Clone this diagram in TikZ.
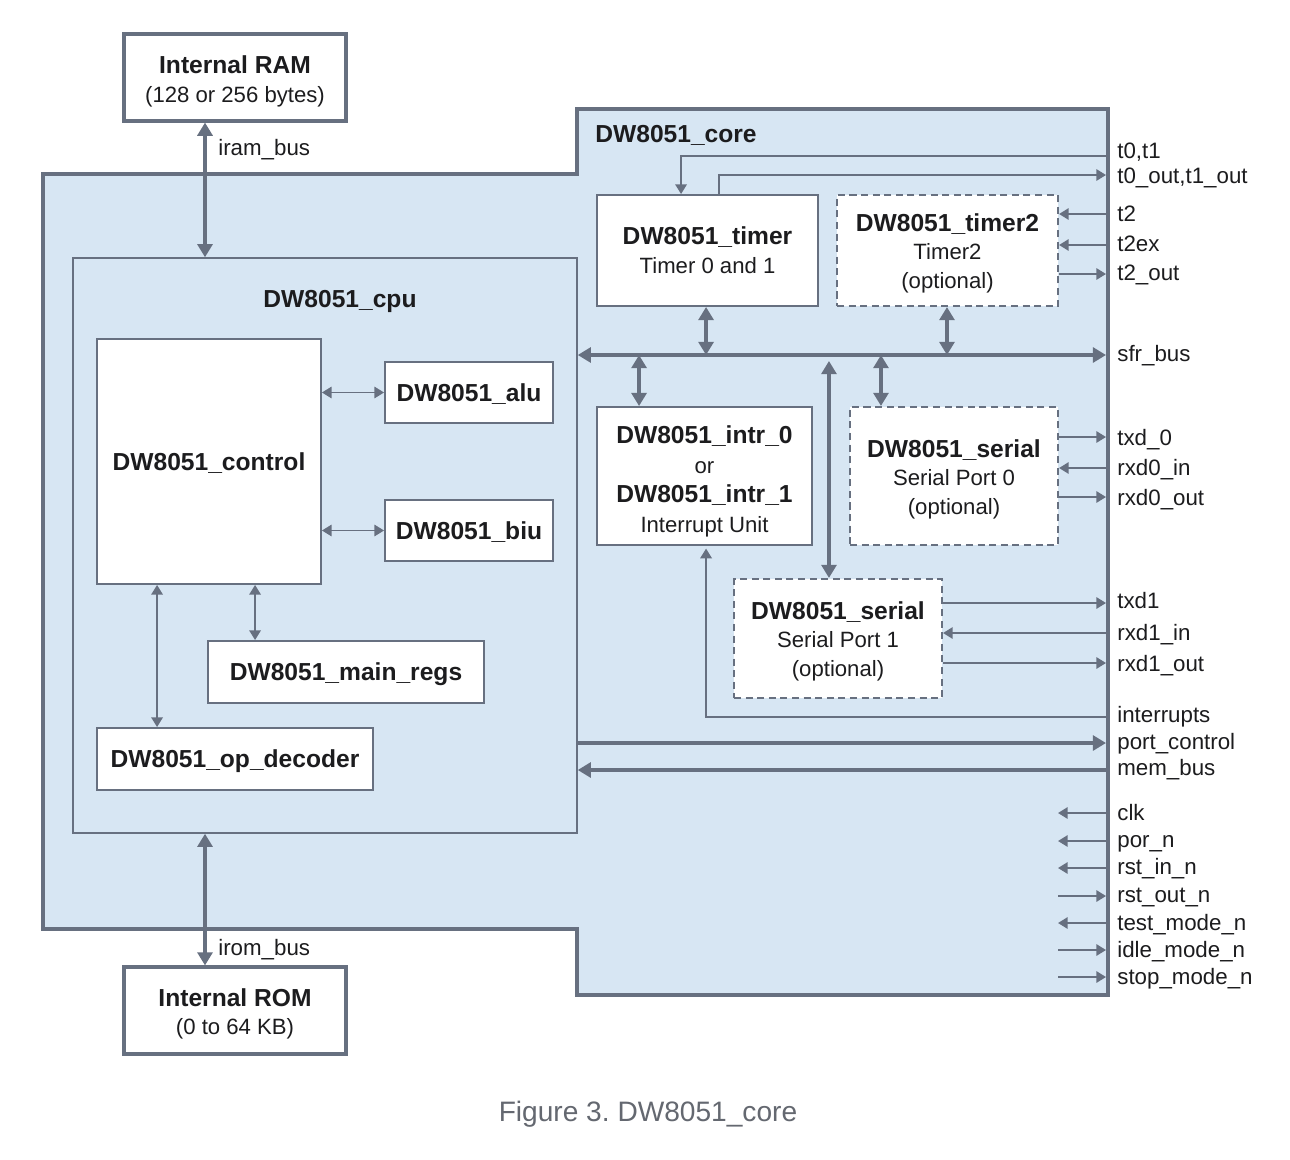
\documentclass[tikz,border=0pt]{standalone}
\usepackage{fontspec}
\setmainfont{Liberation Sans}
\usetikzlibrary{arrows.meta,calc}
\definecolor{lc}{RGB}{103,112,128}
\definecolor{bluefill}{RGB}{215,230,243}
\definecolor{txt}{RGB}{28,28,30}
\definecolor{capc}{RGB}{100,104,112}
\newcommand{\hd}[1]{{\fontsize{14pt}{16.2pt}\selectfont\bfseries #1}}
\newcommand{\ml}[2][15pt]{\begin{tabular}{@{}c@{}}\rule{0pt}{#1}#2\end{tabular}}
\tikzset{
  ts/.tip={Triangle[length=5.5pt,width=6.5pt]},
  tb/.tip={Triangle[length=7.5pt,width=8.5pt]},
}
\frenchspacing
\begin{document}
\begin{tikzpicture}[x=0.02cm,y=-0.02cm,
  every node/.style={text=txt},
  box/.style={draw=lc, fill=white, line width=1.1pt, inner sep=0pt,
              font=\fontsize{12.6pt}{16.2pt}\selectfont},
  optbox/.style={box, dash pattern=on 4pt off 2.6pt, line width=1.2pt},
  membox/.style={box, line width=1.8pt},
  sigline/.style={draw=lc, line width=1pt},
  busline/.style={draw=lc, line width=1.9pt},
  pinlabel/.style={anchor=base west, inner sep=0pt, font=\fontsize{12.7pt}{15pt}\selectfont},
]
\fill[white] (0,0) rectangle (1290,1159);
\useasboundingbox (0,0) rectangle (1290,1159);

% core outline
\draw[lc, fill=bluefill, line width=2.6pt, line join=miter]
  (43,174) -- (577,174) -- (577,109) -- (1108,109) -- (1108,995) -- (577,995) -- (577,929) -- (43,929) -- cycle;
\node[anchor=base west, inner sep=0pt] (coret) at (595,142) {\hd{DW8051\_core}};

% memories
\node[membox, minimum width=4.44cm, minimum height=1.74cm] (ram) at (235,77.5)
  {\ml[17pt]{\hd{Internal RAM}\\(128 or 256 bytes)}};
\node[membox, minimum width=4.44cm, minimum height=1.74cm] (rom) at (235,1010.5)
  {\ml[16.5pt]{\hd{Internal ROM}\\(0 to 64 KB)}};

% cpu
\node[draw=lc, fill=bluefill, line width=0.9pt, inner sep=0pt, minimum width=10.08cm, minimum height=11.5cm] (cpu) at (325,545.5) {};
\node[anchor=base, inner sep=0pt] (cput) at (340,307) {\hd{DW8051\_cpu}};
\node[box, minimum width=4.48cm, minimum height=4.9cm] (ctl) at (209,461.5) {\ml{\hd{DW8051\_control}}};
\node[box, minimum width=3.36cm, minimum height=1.22cm] (alu) at (469,392.5) {\ml{\hd{DW8051\_alu}}};
\node[box, minimum width=3.36cm, minimum height=1.22cm] (biu) at (469,530.5) {\ml{\hd{DW8051\_biu}}};
\node[box, minimum width=5.52cm, minimum height=1.24cm] (mr) at (346,672) {\ml{\hd{DW8051\_main\_regs}}};
\node[box, minimum width=5.52cm, minimum height=1.24cm] (od) at (235,759) {\ml{\hd{DW8051\_op\_decoder}}};

% peripherals
\node[box, minimum width=4.42cm, minimum height=2.22cm] (tm) at (707.5,250.5)
  {\ml[14.7pt]{\hd{DW8051\_timer}\\Timer 0 and 1}};
\node[optbox, minimum width=4.42cm, minimum height=2.22cm] (t2) at (947.5,250.5)
  {\ml[15.3pt]{\hd{DW8051\_timer2}\\Timer2\\(optional)}};
\node[box, minimum width=4.3cm, minimum height=2.76cm, font=\fontsize{12.6pt}{16.8pt}\selectfont] (intr) at (704.5,476)
  {\ml[18.6pt]{\hd{DW8051\_intr\_0}\\or\\\hd{DW8051\_intr\_1}\\Interrupt Unit}};
\node[optbox, minimum width=4.16cm, minimum height=2.76cm] (s0) at (954,476)
  {\ml[15.8pt]{\hd{DW8051\_serial}\\Serial Port 0\\(optional)}};
\node[optbox, minimum width=4.16cm, minimum height=2.38cm] (s1) at (838,638.5)
  {\ml[15.3pt]{\hd{DW8051\_serial}\\Serial Port 1\\(optional)}};

% pins on the core edge
\coordinate (pT01) at (1106,156);
\coordinate (pT01o) at (1106,175);
\coordinate (pT2) at (1106,214);
\coordinate (pT2ex) at (1106,245);
\coordinate (pT2o) at (1106,274);
\coordinate (pSfr) at (1106,355);
\coordinate (pTx0) at (1106,437);
\coordinate (pRx0i) at (1106,468);
\coordinate (pRx0o) at (1106,497);
\coordinate (pTx1) at (1106,603);
\coordinate (pRx1i) at (1106,633);
\coordinate (pRx1o) at (1106,663);
\coordinate (pInt) at (1106,717);
\coordinate (pPc) at (1106,743);
\coordinate (pMem) at (1106,770);

% offset points on boxes
\coordinate (tmA) at ($(tm.north west)+(85,0)$);
\coordinate (tmB) at ($(tm.north west)+(123,0)$);
\coordinate (tmS) at ($(tm.south west)+(110,0)$);
\coordinate (t2S) at ($(t2.south west)+(111,0)$);
\coordinate (inN) at ($(intr.north west)+(43,0)$);
\coordinate (inS) at ($(intr.south west)+(110,0)$);
\coordinate (s0N) at ($(s0.north west)+(32,0)$);
\coordinate (s1N) at ($(s1.north west)+(96,0)$);
\coordinate (ctA) at ($(ctl.south west)+(61,0)$);
\coordinate (ctB) at ($(ctl.south west)+(159,0)$);
\coordinate (ir1) at ($(ram.south)+(-30,0)$);
\coordinate (io1) at ($(rom.north)+(-30,0)$);

% memory buses
\draw[busline, tb-tb] (ir1) -- (ir1 |- cpu.north);
\draw[busline, tb-tb] (io1 |- cpu.south) -- (io1);
\node[anchor=base west, inner sep=0pt, font=\fontsize{12.7pt}{15pt}\selectfont] (lir) at (218,155) {iram\_bus};
\node[anchor=base west, inner sep=0pt, font=\fontsize{12.7pt}{15pt}\selectfont] (lio) at (218,955) {irom\_bus};

% cpu internal
\draw[sigline, ts-ts] (ctl.east |- alu.west) -- (alu.west);
\draw[sigline, ts-ts] (ctl.east |- biu.west) -- (biu.west);
\draw[sigline, ts-ts] (ctA) -- (ctA |- od.north);
\draw[sigline, ts-ts] (ctB) -- (ctB |- mr.north);

% timer signals
\draw[sigline, -ts] (pT01) -| (tmA);
\draw[sigline, -ts] (tmB) |- (pT01o);
\draw[sigline, -ts] (pT2) -- (pT2 -| t2.east);
\draw[sigline, -ts] (pT2ex) -- (pT2ex -| t2.east);
\draw[sigline, -ts] (pT2o -| t2.east) -- (pT2o);

% sfr bus
\draw[busline, tb-tb] (pSfr -| cpu.east) -- (pSfr);
\draw[busline, tb-tb] (tmS) -- (tmS |- pSfr);
\draw[busline, tb-tb] (t2S) -- (t2S |- pSfr);
\draw[busline, tb-tb] (inN) -- (inN |- pSfr);
\draw[busline, tb-tb] (s0N) -- (s0N |- pSfr);
\draw[busline, tb-tb, shorten >=3.4pt] (s1N) -- (s1N |- pSfr);

% serial signals
\draw[sigline, -ts] (pTx0 -| s0.east) -- (pTx0);
\draw[sigline, -ts] (pRx0i) -- (pRx0i -| s0.east);
\draw[sigline, -ts] (pRx0o -| s0.east) -- (pRx0o);
\draw[sigline, -ts] (pTx1 -| s1.east) -- (pTx1);
\draw[sigline, -ts] (pRx1i) -- (pRx1i -| s1.east);
\draw[sigline, -ts] (pRx1o -| s1.east) -- (pRx1o);

% interrupts, port control, mem bus
\draw[sigline, -ts, shorten >=1.5pt] (pInt) -| (inS);
\draw[busline, -tb] (pPc -| cpu.east) -- (pPc);
\draw[busline, -tb] (pMem) -- (pMem -| cpu.east);

% bottom pins
\foreach \n/\y in {clk/813, por/841, rstin/868, test/923}{
  \coordinate (\n A) at (1106,\y);
  \coordinate (\n B) at (1058,\y);
  \draw[sigline, -ts] (\n A) -- (\n B);
}
\foreach \n/\y in {rstout/896, idle/950, stop/977}{
  \coordinate (\n A) at (1106,\y);
  \coordinate (\n B) at (1058,\y);
  \draw[sigline, -ts] (\n B) -- (\n A);
}

% pin labels
\node[pinlabel] (lT01) at (1117,158) {t0,t1};
\node[pinlabel] (lT01o) at (1117,183) {t0\_out,t1\_out};
\node[pinlabel] (lT2) at (1117,221) {t2};
\node[pinlabel] (lT2ex) at (1117,251) {t2ex};
\node[pinlabel] (lT2o) at (1117,280) {t2\_out};
\node[pinlabel] (lSfr) at (1117,361) {sfr\_bus};
\node[pinlabel] (lTx0) at (1117,445) {txd\_0};
\node[pinlabel] (lRx0i) at (1117,475) {rxd0\_in};
\node[pinlabel] (lRx0o) at (1117,505) {rxd0\_out};
\node[pinlabel] (lTx1) at (1117,608) {txd1};
\node[pinlabel] (lRx1i) at (1117,640) {rxd1\_in};
\node[pinlabel] (lRx1o) at (1117,671) {rxd1\_out};
\node[pinlabel] (lInt) at (1117,722) {interrupts};
\node[pinlabel] (lPc) at (1117,749) {port\_control};
\node[pinlabel] (lMem) at (1117,775) {mem\_bus};
\node[pinlabel] (lclk) at (1117,820) {clk};
\node[pinlabel] (lpor) at (1117,847) {por\_n};
\node[pinlabel] (lrstin) at (1117,874) {rst\_in\_n};
\node[pinlabel] (lrstout) at (1117,902) {rst\_out\_n};
\node[pinlabel] (ltest) at (1117,930) {test\_mode\_n};
\node[pinlabel] (lidle) at (1117,957) {idle\_mode\_n};
\node[pinlabel] (lstop) at (1117,984) {stop\_mode\_n};

% caption
\node[anchor=base, inner sep=0pt, text=capc, font=\fontsize{16pt}{19pt}\selectfont] (cap) at (648,1121) {Figure 3. DW8051\_core};
\end{tikzpicture}
\end{document}
